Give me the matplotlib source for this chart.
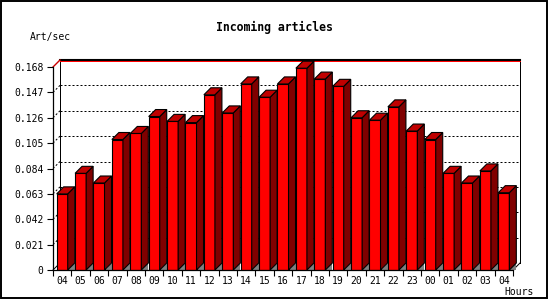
import matplotlib
matplotlib.use("Agg")
import matplotlib.pyplot as plt
from matplotlib.patches import Polygon, Rectangle
from matplotlib.ticker import FixedLocator, FixedFormatter

hours = ["04", "05", "06", "07", "08", "09", "10", "11", "12", "13", "14", "15",
         "16", "17", "18", "19", "20", "21", "22", "23", "00", "01", "02", "03", "04"]
values = [0.063, 0.080, 0.072, 0.108, 0.113, 0.127, 0.123, 0.122, 0.145, 0.130,
          0.154, 0.143, 0.154, 0.167, 0.158, 0.152, 0.126, 0.124, 0.135, 0.115,
          0.108, 0.080, 0.072, 0.082, 0.064]
yticks = [0, 0.021, 0.042, 0.063, 0.084, 0.105, 0.126, 0.147, 0.168]
ytick_labels = ["0", "0.021", "0.042", "0.063", "0.084", "0.105", "0.126", "0.147", "0.168"]

W, H, DPI = 550, 300, 100
fig = plt.figure(figsize=(W / DPI, H / DPI), dpi=DPI, facecolor="white")
mono = "DejaVu Sans Mono"

# axes (front plane) in pixel layout
ax_l, ax_r, ax_t, ax_b = 53, 513, 67, 270
ax = fig.add_axes([ax_l / W, 1 - ax_b / H, (ax_r - ax_l) / W, (ax_b - ax_t) / H])
ax.set_facecolor("none")
n = len(values)
xmin, xmax = -0.5, n - 0.5
ymin, ymax = 0, yticks[-1]
ax.set_xlim(xmin, xmax)
ax.set_ylim(ymin, ymax)

# 3D depth offsets (7 px each way) converted to data units
depth_px = 7
dx = depth_px * (xmax - xmin) / (ax_r - ax_l)
dy = depth_px * (ymax - ymin) / (ax_b - ax_t)

# back plane grid lines
px = 72.0 / DPI
for v in yticks[1:-1]:
    ax.plot([xmin + dx, xmax + dx], [v + dy, v + dy], color="black", lw=px,
            linestyle=(0, (2 * px / px, 2)), dashes=(2, 2), zorder=1, clip_on=False)
    ax.plot([xmin, xmin + dx], [v, v + dy], color="black", lw=px,
            dashes=(2, 2), zorder=1, clip_on=False)

# back plane edges
ax.plot([xmin + dx, xmin + dx], [dy, ymax + dy], color="black", lw=px, zorder=1, clip_on=False)
ax.plot([xmax + dx, xmax + dx], [dy, ymax + dy], color="black", lw=px, zorder=1, clip_on=False)
ax.plot([xmin + dx, xmax + dx], [ymax + dy, ymax + dy], color="black", lw=1.5, zorder=1, clip_on=False)
ax.plot([xmin + dx, xmax + dx], [ymax + dy * 0.85, ymax + dy * 0.85], color="#ff0000", lw=px, zorder=1, clip_on=False)
ax.plot([xmin, xmin + dx], [ymax, ymax + dy], color="#cc0000", lw=1.0, zorder=1, clip_on=False)
ax.plot([xmin, xmin + dx], [0, dy], color="black", lw=px, zorder=1, clip_on=False)
ax.plot([xmax, xmax + dx], [0, dy], color="black", lw=px, zorder=1, clip_on=False)

# bars
w = 0.6
xs = list(range(n))
ax.bar(xs, values, width=w, color="#ff0000", edgecolor="black", linewidth=0.8, zorder=3)
for i, v in zip(xs, values):
    r = i + w / 2
    l = i - w / 2
    ax.add_patch(Polygon([(r, 0), (r + dx, 0), (r + dx, dy)], closed=True,
                         facecolor="#808080", edgecolor="none", zorder=2, clip_on=False))
    ax.add_patch(Polygon([(r, 0), (r, v), (r + dx, v + dy), (r + dx, dy)], closed=True,
                         facecolor="#800000", edgecolor="black", linewidth=0.8, zorder=3, clip_on=False))
    ax.add_patch(Polygon([(l, v), (r, v), (r + dx, v + dy), (l + dx, v + dy)], closed=True,
                         facecolor="#c00000", edgecolor="black", linewidth=0.8, zorder=3, clip_on=False))

# spines and ticks
for s in ["top", "right"]:
    ax.spines[s].set_visible(False)
for s in ["left", "bottom"]:
    ax.spines[s].set_linewidth(0.9)
    ax.spines[s].set_zorder(4)
ax.set_yticks(yticks)
ax.set_yticklabels(ytick_labels, fontfamily=mono, fontsize=7)
ax.tick_params(axis="y", direction="out", length=4, width=0.8, pad=3)
ax.xaxis.set_major_locator(FixedLocator([i - 0.5 for i in range(n + 1)]))
ax.xaxis.set_major_formatter(FixedFormatter([""] * (n + 1)))
ax.xaxis.set_minor_locator(FixedLocator(xs))
ax.xaxis.set_minor_formatter(FixedFormatter(hours))
ax.tick_params(axis="x", which="major", direction="out", length=4, width=0.8)
ax.tick_params(axis="x", which="minor", length=0, pad=4, labelsize=7)
for lab in ax.get_xticklabels(minor=True):
    lab.set_fontfamily(mono)

# texts
fig.text(274 / W, 1 - 27 / H, "Incoming articles", ha="center", va="center",
         fontfamily=mono, fontweight="bold", fontsize=8.3)
fig.text(30 / W, 1 - 37 / H, "Art/sec", ha="left", va="center", fontfamily=mono, fontsize=7)
fig.text(519 / W, 1 - 292 / H, "Hours", ha="center", va="center", fontfamily=mono, fontsize=7)

# outer frame
fig.add_artist(Rectangle((1 / W, 1 - 298 / H), 546 / W, 297 / H, transform=fig.transFigure,
                         fill=False, edgecolor="black", linewidth=1.4))

fig.savefig("out.png", dpi=DPI, facecolor="white")
